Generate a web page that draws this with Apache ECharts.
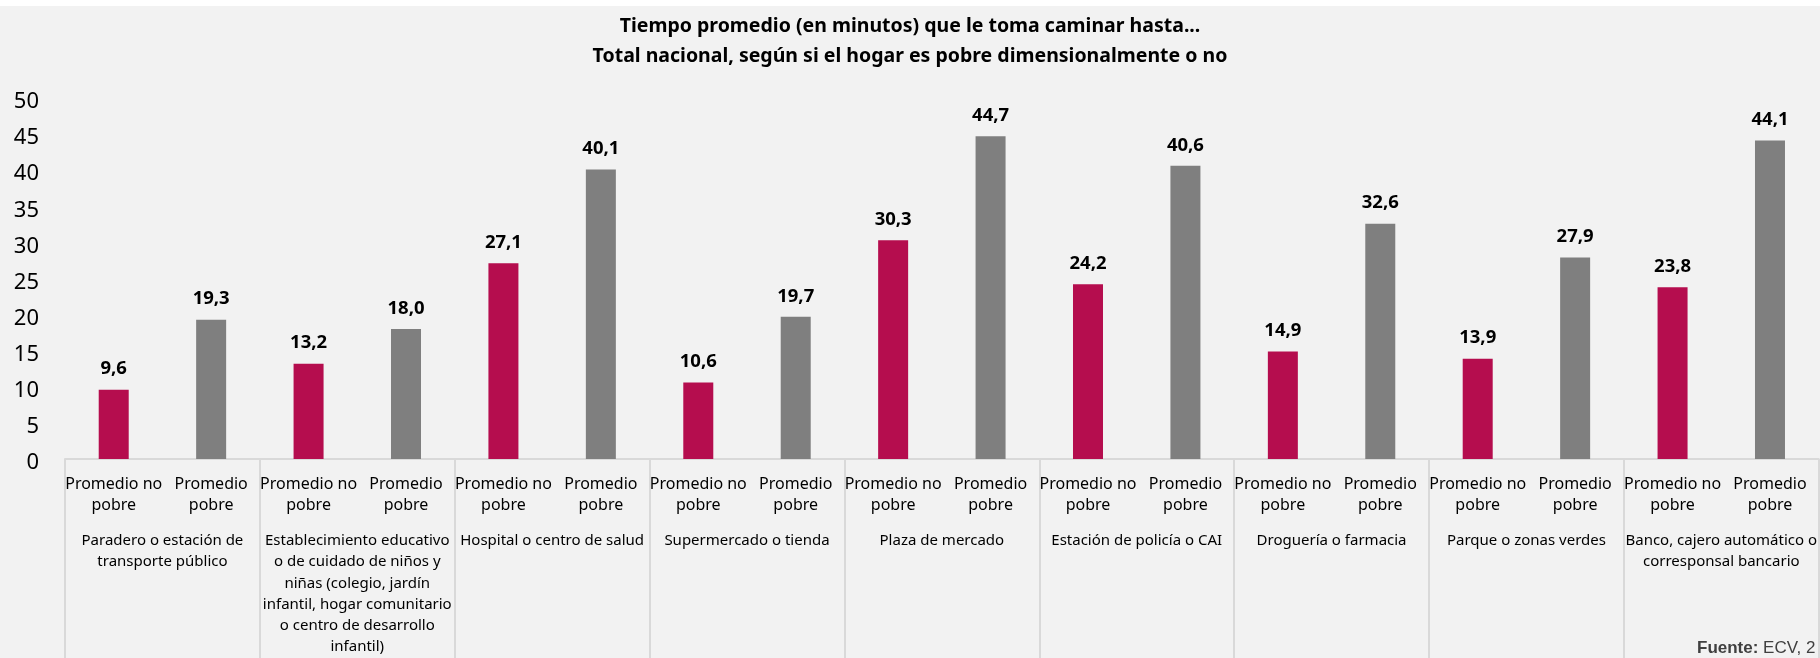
<!DOCTYPE html>
<html>
<head>
<meta charset="utf-8">
<script src="https://cdn.jsdelivr.net/npm/echarts@6/dist/echarts.min.js"></script>
<style>
  html, body { margin: 0; padding: 0; background: #ffffff; }
  #chart { width: 1820px; height: 658px; }
</style>
</head>
<body>
<div id="chart"></div>
<script>
// grupos (nivel 2 del eje x)
var groups = [
  'Paradero o estación de\ntransporte público',
  'Establecimiento educativo\no de cuidado de niños y\nniñas (colegio, jardín\ninfantil, hogar comunitario\no centro de desarrollo\ninfantil)',
  'Hospital o centro de salud',
  'Supermercado o tienda',
  'Plaza de mercado',
  'Estación de policía o CAI',
  'Droguería o farmacia',
  'Parque o zonas verdes',
  'Banco, cajero automático o\ncorresponsal bancario'
];
var subLabels = ['Promedio no\npobre', 'Promedio\npobre'];
var noPobre = [9.6, 13.2, 27.1, 10.6, 30.3, 24.2, 14.9, 13.9, 23.8];
var pobre = [19.3, 18.0, 40.1, 19.7, 44.7, 40.6, 32.6, 27.9, 44.1];
var yTicks = [0, 50, 5];

var font = 'Noto Sans';

// categorias de nivel 1: dos por grupo
var cats = [], s1 = [], s2 = [];
for (var i = 0; i < groups.length; i++) {
  cats.push(subLabels[0] + '|' + i);
  cats.push(subLabels[1] + '|' + i);
  s1.push(noPobre[i], '-');
  s2.push('-', pobre[i]);
}

var fmt = function (p) { return p.value.toFixed(1).replace('.', ','); };

var option = {
  backgroundColor: '#f2f2f2',
  animation: false,
  textStyle: { fontFamily: font },
  title: {
    text: 'Tiempo promedio (en minutos) que le toma caminar hasta...\nTotal nacional, según si el hogar es pobre dimensionalmente o no',
    left: 'center',
    top: 6,
    textStyle: { fontFamily: font, fontSize: 19.5, fontWeight: 'bold', color: '#000', lineHeight: 30 }
  },
  graphic: [
    { type: 'rect', shape: { x: 0, y: 0, width: 1820, height: 6 }, style: { fill: '#ffffff' } },
    {
      type: 'text', left: 1697, top: 640,
      style: {
        text: '{b|Fuente:} ECV, 2',
        fontFamily: 'Liberation Sans', fontSize: 17, fill: '#404040',
        rich: { b: { fontWeight: 'bold', fontFamily: 'Liberation Sans', fontSize: 17, fill: '#404040' } }
      }
    }
  ],
  grid: { left: 65, right: 0, top: 98, bottom: 199, containLabel: false },
  xAxis: [{
    type: 'category',
    data: cats,
    axisLine: { lineStyle: { color: '#d9d9d9', width: 2 } },
    axisTick: { show: false },
    axisLabel: {
      interval: 0, margin: 15, fontSize: 16, lineHeight: 21, color: '#000',
      formatter: function (v) { return v.split('|')[0]; }
    }
  }, {
    type: 'category',
    data: groups,
    position: 'bottom',
    axisLine: { show: false },
    axisTick: { show: true, interval: 0, length: 199, lineStyle: { color: '#d9d9d9', width: 2 } },
    axisLabel: { interval: 0, margin: 71, fontSize: 15, lineHeight: 21.3, color: '#000' }
  }],
  yAxis: {
    type: 'value',
    min: yTicks[0], max: yTicks[1], interval: yTicks[2],
    splitLine: { show: false },
    axisLine: { show: false },
    axisTick: { show: false },
    axisLabel: {
      color: '#000', margin: 26,
      formatter: '{v|{value}}',
      rich: { v: { fontSize: 22, color: '#000', padding: [8, 0, 0, 0] } }
    }
  },
  series: [{
    name: 'Promedio no pobre',
    type: 'bar',
    data: s1,
    barWidth: 30,
    barGap: '-100%',
    itemStyle: { color: '#b50d4e' },
    label: { show: true, position: 'top', distance: 11, fontSize: 18.5, fontWeight: 'bold', color: '#000', formatter: fmt }
  }, {
    name: 'Promedio pobre',
    type: 'bar',
    data: s2,
    barWidth: 30,
    barGap: '-100%',
    itemStyle: { color: '#7f7f7f' },
    label: { show: true, position: 'top', distance: 11, fontSize: 18.5, fontWeight: 'bold', color: '#000', formatter: fmt }
  }]
};

var myChart = echarts.init(document.getElementById('chart'));
myChart.setOption(option);
</script>
</body>
</html>
